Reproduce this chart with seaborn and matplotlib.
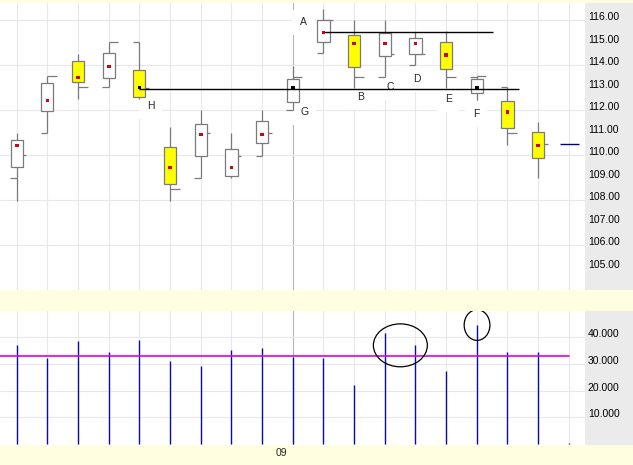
import numpy as np
import pandas as pd
import matplotlib
matplotlib.use("Agg")
import matplotlib.pyplot as plt
import matplotlib.transforms as mtransforms
from matplotlib.patches import Ellipse, Rectangle
import seaborn as sns

# ------------------------------------------------------------------ data
bar_index = list(range(18))
high = [110.96, 113.51, 114.49, 115.01, 115.01, 111.26, 112.00, 110.99, 112.00,
        113.96, 116.48, 116.00, 116.00, 115.48, 115.52, 113.51, 113.01, 111.48]
low = [107.97, 110.96, 112.48, 113.01, 112.47, 107.97, 108.96, 108.96, 109.97,
       112.00, 114.52, 112.96, 113.48, 114.00, 112.96, 112.44, 110.44, 108.96]
open_tick = [108.98, 110.96, 113.50, 113.01, 115.01, 110.00, 108.96, 109.97, 109.97,
             112.00, 114.52, 115.01, 113.48, 114.00, 114.49, 113.48, 113.01, 110.96]
close_tick = [109.99, 113.51, 113.01, 115.01, 112.96, 108.49, 110.96, 109.97, 110.96,
              113.48, 116.00, 113.48, 114.49, 114.49, 113.48, 113.51, 110.96, 110.48]
box_top = [110.67, 113.19, 114.16, 114.52, 113.76, 110.34, 111.36, 110.25, 111.51,
           113.36, 116.00, 115.33, 115.41, 115.19, 115.01, 113.38, 112.41, 111.01]
box_bottom = [109.48, 111.97, 113.26, 113.44, 112.59, 108.70, 109.97, 109.08, 110.52,
              112.37, 115.04, 113.92, 114.41, 114.49, 113.81, 112.77, 111.19, 109.85]
pivot = [110.43, 112.43, 113.45, 113.94, 113.00, 109.45, 110.92, 109.45, 110.92,
         112.98, 115.45, 114.96, 114.96, 114.96, 114.44, 112.98, 111.92, 110.43]
box_falling = [False, False, True, False, True, True, False, False, False,
               False, False, True, False, False, True, False, True, True]
pivot_marked = [False, False, False, False, True, False, False, False, False,
                True, False, False, False, False, False, True, False, False]

volume_index = list(range(19))
volume = [37.3, 32.4, 38.5, 34.4, 39.1, 31.3, 29.4, 35.4, 36.1, 32.8,
          32.4, 22.3, 41.6, 37.3, 27.3, 44.5, 34.4, 34.4, 0.3]
volume_avg = 33.1

price_ticks = [105, 106, 107, 108, 109, 110, 111, 112, 113, 114, 115, 116]
price_grid = [106, 108, 110, 112, 114, 116]
volume_ticks = [10, 20, 30, 40]
volume_tick_labels = ["10.000", "20.000", "30.000", "40.000"]
month_label = "09"
month_index = 9

# trend lines: (start index, end index, level)
support_line = (4, 16.37, 112.93)
resist_line = (10, 15.54, 115.45)
last_price_index = 18

point_labels = ["A", "B", "C", "D", "E", "F", "G", "H"]
point_label_x = [9.35, 11.22, 12.17, 13.04, 14.07, 14.98, 9.38, 4.37]
point_label_y = [115.90, 112.59, 113.03, 113.38, 112.49, 111.81, 111.90, 112.18]

# circled volume bars: (center x, center y, width, height)
circles = [(12.51, 37.0, 1.76, 16.1), (15.01, 44.6, 0.84, 11.5)]

# ------------------------------------------------------------------ style
sns.set_style("white")
plt.rcParams["font.family"] = ["Liberation Sans", "DejaVu Sans"]

W, H = 633, 465
fig = plt.figure(figsize=(W / 100, H / 100), dpi=100)
bg = "#fffee0"
fig.patch.set_facecolor(bg)

ax = fig.add_axes([0, 175 / H, 585 / W, 287 / H])
ax2 = fig.add_axes([0, 20 / H, 585 / W, 134 / H])

# grey label columns
for y0, hh in [(175, 287), (20, 134)]:
    fig.patches.append(Rectangle((585 / W, y0 / H), 48 / W, hh / H,
                                 transform=fig.transFigure, facecolor="#ebebeb",
                                 edgecolor="none", zorder=-5))

XLIM = (-0.544, 18.53)
grid_c = "#e8e8e8"
dark_grid = "#b4b4b4"
for a in (ax, ax2):
    a.set_facecolor("white")
    a.set_xlim(*XLIM)
    for s in a.spines.values():
        s.set_visible(False)
    for i in volume_index:
        a.axvline(i, color=dark_grid if i == month_index else grid_c, lw=0.8, zorder=0.5)
    a.set_xticks([])

# ------------------------------------------------------------------ price panel
ax.set_ylim(104.0, 116.76)
for g in price_grid:
    ax.axhline(g, color=grid_c, lw=0.8, zorder=0.5)

# point labels (white boxes under lines)
for lab, lx, ly in zip(point_labels, point_label_x, point_label_y):
    ax.text(lx, ly, lab, fontsize=7.5, ha="center", va="center", zorder=1.5,
            bbox=dict(boxstyle="square,pad=0.75", facecolor="white", edgecolor="none"))

wick_c = "#7a7a7a"
xs = np.array(bar_index, dtype=float)
ax.vlines(xs, low, high, color=wick_c, lw=0.9, zorder=2)
ax.hlines(open_tick, xs - 0.21, xs, color=wick_c, lw=0.9, zorder=2)
ax.hlines(close_tick, xs, xs + 0.31, color=wick_c, lw=0.9, zorder=2)

body_h = np.array(box_top) - np.array(box_bottom)
colors = ["#ffff00" if f else "white" for f in box_falling]
ax.bar(xs, body_h, bottom=box_bottom, width=0.40, color=colors,
       edgecolor=wick_c, linewidth=0.9, zorder=3)

# trend lines
for x0, x1, lvl in (support_line, resist_line):
    ax.hlines(lvl, x0, x1, color="black", lw=1.0, zorder=5)
ax.hlines(close_tick[-1], last_price_index - 0.28, last_price_index + 0.34,
          color="#000080", lw=1.0, zorder=5)

dots = pd.DataFrame({"x": bar_index, "y": pivot,
                     "kind": ["mark" if m else "pivot" for m in pivot_marked]})
sns.scatterplot(data=dots, x="x", y="y", hue="kind", marker="s", s=7,
                palette={"pivot": "#d40018", "mark": "black"}, linewidth=0,
                legend=False, ax=ax, zorder=6)
ax.set_xlabel("")
ax.set_ylabel("")

ax.yaxis.tick_right()
ax.set_yticks(price_ticks)
ax.set_yticklabels([f"{v:.2f}" for v in price_ticks])
ax.tick_params(axis="y", length=0, pad=2, labelsize=7.5, colors="black")
for t in ax.get_yticklabels():
    t.set_va("baseline")

# ------------------------------------------------------------------ volume panel
ax2.set_ylim(-0.37, 49.87)
for g in volume_ticks:
    ax2.axhline(g, color=grid_c, lw=0.8, zorder=0.5)

ax2.vlines(volume_index, 0, volume, color="#0a0aa8", lw=1.0, zorder=3)
avg_df = pd.DataFrame({"x": [XLIM[0], volume_index[-1]], "y": [volume_avg, volume_avg]})
sns.lineplot(data=avg_df, x="x", y="y", color="#e000e0", lw=1.2, ax=ax2, zorder=4)
ax2.set_xlabel("")
ax2.set_ylabel("")

for cx, cy, cw, ch in circles:
    ax2.add_patch(Ellipse((cx, cy), cw, ch, fill=False, edgecolor="black",
                          lw=0.9, zorder=5))

ax2.yaxis.tick_right()
ax2.set_yticks(volume_ticks)
ax2.set_yticklabels(volume_tick_labels)
ax2.tick_params(axis="y", length=0, pad=2, labelsize=7.5, colors="black")
for t in ax2.get_yticklabels():
    t.set_va("baseline")
ax2.set_xticks([])

off = mtransforms.ScaledTranslation(-5 / 100, -8 / 100, fig.dpi_scale_trans)
trans = mtransforms.blended_transform_factory(ax2.transData, ax2.transAxes) + off
ax2.text(month_index, 0, month_label, transform=trans, ha="right", va="center",
         fontsize=7.5, clip_on=False)

fig.savefig("out.png", dpi=100, facecolor=bg)
